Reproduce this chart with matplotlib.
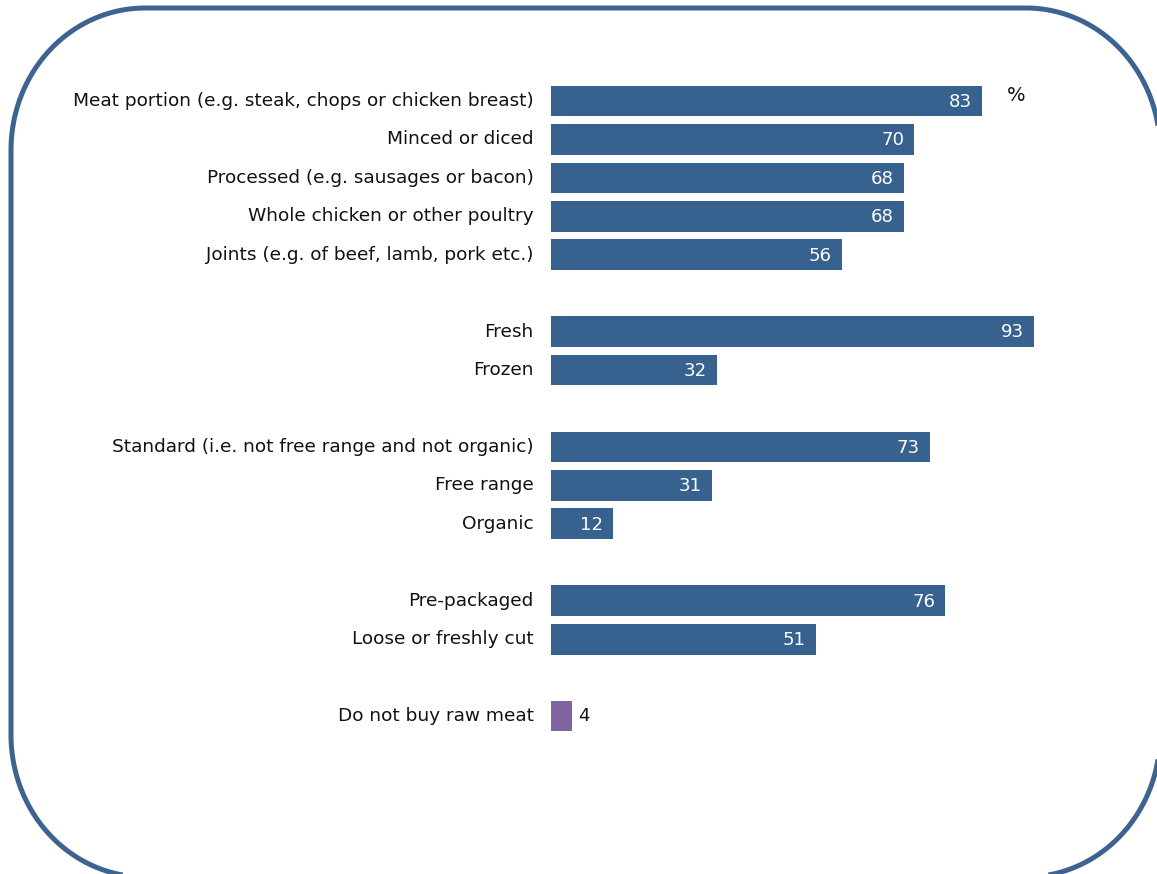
import matplotlib
matplotlib.use('Agg')
import matplotlib.pyplot as plt
import numpy as np
from matplotlib.patches import Polygon

plt.rcParams['font.family'] = ['DejaVu Sans']

# 항목과 값 (%)
labels = ['Meat portion (e.g. steak, chops or chicken breast)', 'Minced or diced',
          'Processed (e.g. sausages or bacon)', 'Whole chicken or other poultry',
          'Joints (e.g. of beef, lamb, pork etc.)',
          'Fresh', 'Frozen',
          'Standard (i.e. not free range and not organic)', 'Free range', 'Organic',
          'Pre-packaged', 'Loose or freshly cut',
          'Do not buy raw meat']
values = [83, 70, 68, 68, 56, 93, 32, 73, 31, 12, 76, 51, 4]
rows = [0, 1, 2, 3, 4, 6, 7, 9, 10, 11, 13, 14, 16]

blue = '#37618f'
purple = '#8064a2'
colors = [blue] * 12 + [purple]

W, H = 1157, 874
fig = plt.figure(figsize=(W / 100, H / 100), dpi=100)

# 둥근 테두리 (픽셀 좌표로 만든 뒤 figure 비율로 변환)
x0, x1, y0, y1 = 11, 1160, 8, 877
rx, ry = 134, 142
t = np.linspace(0, np.pi / 2, 60)
bx, by = [], []
for cx, cy, a0 in [(x1 - rx, y0 + ry, -np.pi / 2), (x1 - rx, y1 - ry, 0),
                   (x0 + rx, y1 - ry, np.pi / 2), (x0 + rx, y0 + ry, np.pi)]:
    bx.extend(cx + rx * np.cos(a0 + t))
    by.extend(cy + ry * np.sin(a0 + t))
pts = np.column_stack([np.array(bx) / W, 1 - np.array(by) / H])
border = Polygon(pts, closed=True, fill=False, transform=fig.transFigure,
                 edgecolor='#3d6491', linewidth=3.6, joinstyle='round')
fig.patches.append(border)

ax = fig.add_axes([551 / W, 138.7 / H, 519 / W, 653.5 / H])
ax.barh(rows, values, height=0.8, color=colors)
ax.set_xlim(0, 100)
ax.set_ylim(16.5, -0.5)

for r, v, lab in zip(rows, values, labels):
    ax.text(-3.3, r, lab, ha='right', va='center', fontsize=13.3, color='#111111')
    if v > 10:
        ax.text(v - 1.9, r + 0.02, str(v), ha='right', va='center',
                fontsize=13.1, color='white')
    else:
        ax.text(v + 1.2, r, str(v), ha='left', va='center', fontsize=13.1, color='#111111')

ax.text(87.8, -0.15, '%', ha='left', va='center', fontsize=14, color='#111111')

ax.axis('off')
fig.savefig('out.png', dpi=100)
